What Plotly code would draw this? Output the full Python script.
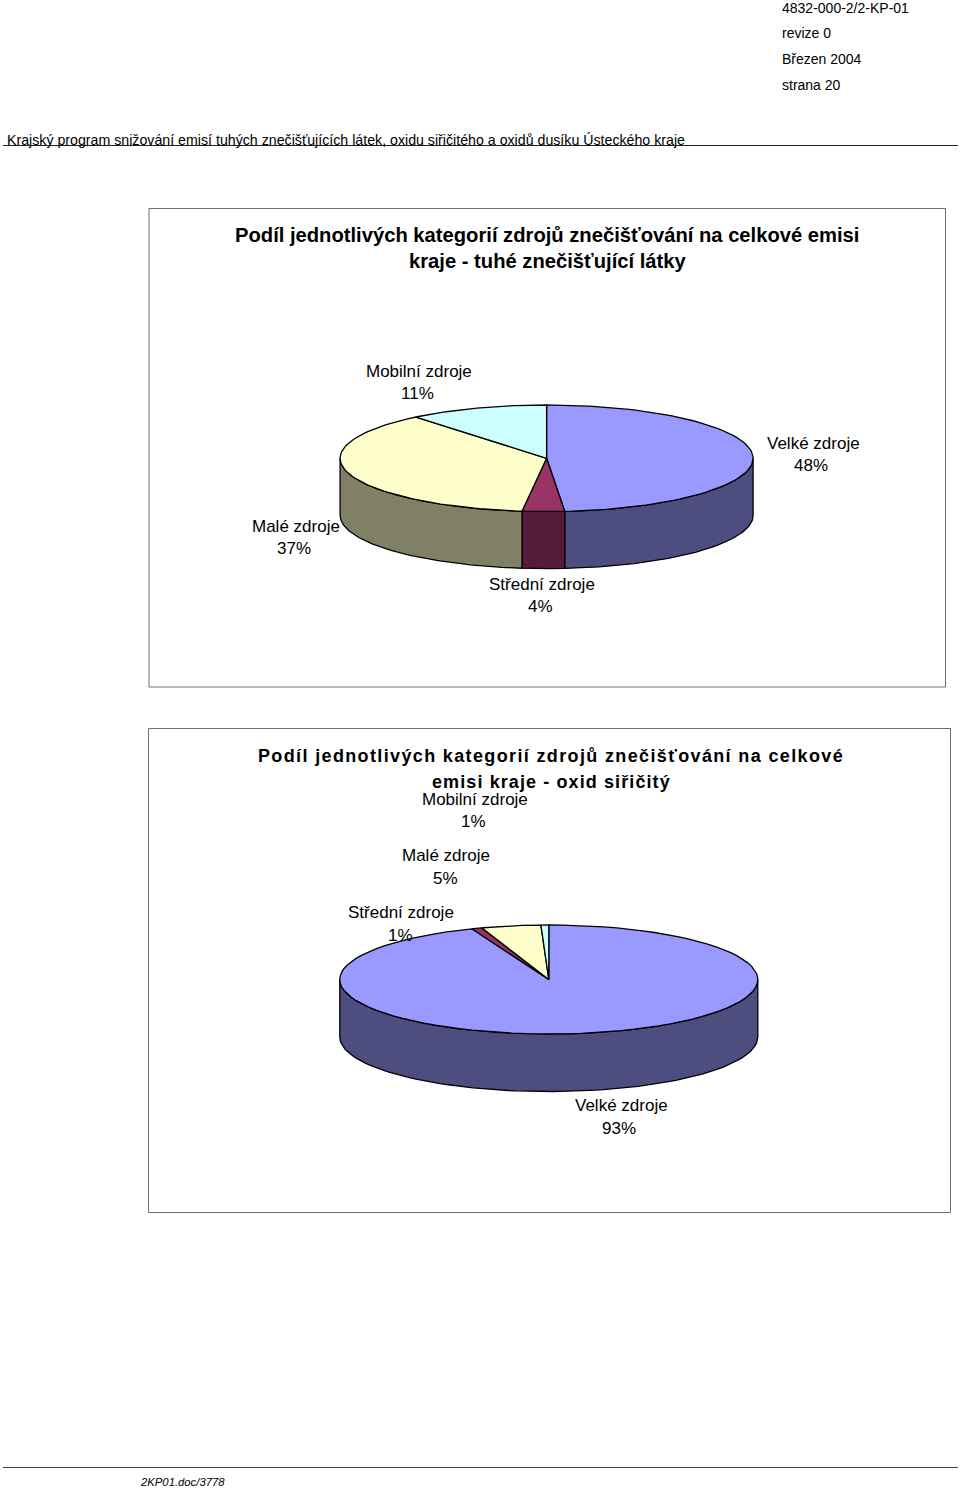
import numpy as np
import plotly.graph_objects as go

# slices clockwise from 12 o'clock
categories = ["Velké zdroje", "Střední zdroje", "Malé zdroje", "Mobilní zdroje"]
tuhe_values = [48.6, 3.3, 37.2, 10.9]
tuhe_labels = ["48%", "4%", "37%", "11%"]
oxid_values = [94.0, 0.8, 4.6, 0.6]
oxid_labels = ["93%", "1%", "5%", "1%"]

top_colors = ["#9999ff", "#993366", "#ffffcc", "#ccffff"]
side_colors = ["#4d4d80", "#551b39", "#808066", "#668080"]

FONT = "Liberation Sans"
fig = go.Figure()


def ring(cx, cy, rx, ry, a0, a1, n=90):
    a = np.radians(np.linspace(a0, a1, n))
    return cx + rx * np.sin(a), cy - ry * np.cos(a)


def add_poly(x, y, color):
    fig.add_trace(go.Scatter(
        x=np.append(x, x[0]), y=np.append(y, y[0]), mode="lines", fill="toself",
        fillcolor=color, line=dict(color="#000000", width=1.3),
        hoverinfo="skip", showlegend=False,
    ))


def add_pie(values, cx, cy, rx, ry, depth):
    total = sum(values)
    edges = np.cumsum([0] + values) / total * 360
    # front wall first, only the part between 90 and 270 deg can be seen
    for i, color in enumerate(side_colors):
        a0 = max(edges[i], 90)
        a1 = min(edges[i + 1], 270)
        if a1 <= a0:
            continue
        x, y = ring(cx, cy, rx, ry, a0, a1)
        add_poly(np.concatenate([x, x[::-1]]), np.concatenate([y, y[::-1] + depth]), color)
    for i, color in enumerate(top_colors):
        x, y = ring(cx, cy, rx, ry, edges[i], edges[i + 1])
        add_poly(np.concatenate([[cx], x]), np.concatenate([[cy], y]), color)


def text(x, y, s, size=17, anchor="center", bold=False, spacing=None, italic=False):
    if bold:
        s = f"<b>{s}</b>"
    if italic:
        s = f"<i>{s}</i>"
    if spacing is not None:
        s = f'<span style="letter-spacing:{spacing}px">{s}</span>'
    fig.add_annotation(
        x=x, y=y, text=s, showarrow=False, xanchor=anchor, yanchor="middle",
        xref="x", yref="y", font=dict(family=FONT, size=size, color="#000000"),
    )


add_pie(tuhe_values, 546.6, 458.3, 206.5, 53.3, 57)
add_pie(oxid_values, 548.8, 979.5, 209, 54.5, 57.5)

# page furniture
frame = "#6e6e6e"
fig.add_shape(type="rect", x0=149, y0=208.5, x1=945.5, y1=687, line=dict(color=frame, width=1))
fig.add_shape(type="rect", x0=148.5, y0=728.5, x1=950.5, y1=1212.5, line=dict(color=frame, width=1))
fig.add_shape(type="line", x0=3, y0=145.5, x1=958, y1=145.5, line=dict(color="#222222", width=1))
fig.add_shape(type="line", x0=3, y0=1467.5, x1=958, y1=1467.5, line=dict(color="#444444", width=1))

for y, s in zip([8, 33, 59, 85], ["4832-000-2/2-KP-01", "revize 0", "Březen 2004", "strana 20"]):
    text(780, y, s, size=14, anchor="left")
text(5, 139.5, "Krajský program snižování emisí tuhých znečišťujících látek, oxidu siřičitého a oxidů dusíku Ústeckého kraje",
     size=14.2, anchor="left")
text(138, 1481.5, "2KP01.doc/3778", size=11.3, anchor="left", italic=True)

text(547, 235, "Podíl jednotlivých kategorií zdrojů znečišťování na celkové emisi", size=20.2, bold=True)
text(547.5, 260.5, "kraje - tuhé znečišťující látky", size=20.2, bold=True)
text(550.5, 755.5, "Podíl jednotlivých kategorií zdrojů znečišťování na celkové", size=18, bold=True, spacing=1.36)
text(551, 781.5, "emisi kraje - oxid siřičitý", size=18, bold=True, spacing=1.1)

tuhe_pos = [((813, 443), (811, 465)), ((542, 584), (540, 606)), ((296, 526), (294, 548)), ((419, 371), (417, 393))]
oxid_pos = [((621, 1105), (619, 1128)), ((401, 912), (400, 935)), ((446, 855), (445, 878)), ((475, 799), (473, 821))]
for labels, pos in [(tuhe_labels, tuhe_pos), (oxid_labels, oxid_pos)]:
    for name, pct, (p_name, p_pct) in zip(categories, labels, pos):
        text(p_name[0], p_name[1], name)
        text(p_pct[0], p_pct[1], pct)

fig.update_xaxes(range=[0, 960], visible=False, fixedrange=True)
fig.update_yaxes(range=[1488, 0], visible=False, fixedrange=True)
fig.update_layout(
    width=960, height=1488, margin=dict(l=0, r=0, t=0, b=0),
    paper_bgcolor="#ffffff", plot_bgcolor="#ffffff", showlegend=False,
)

fig.write_html("out.html", config={"displayModeBar": False},
               post_script="document.body.style.margin='0';")
